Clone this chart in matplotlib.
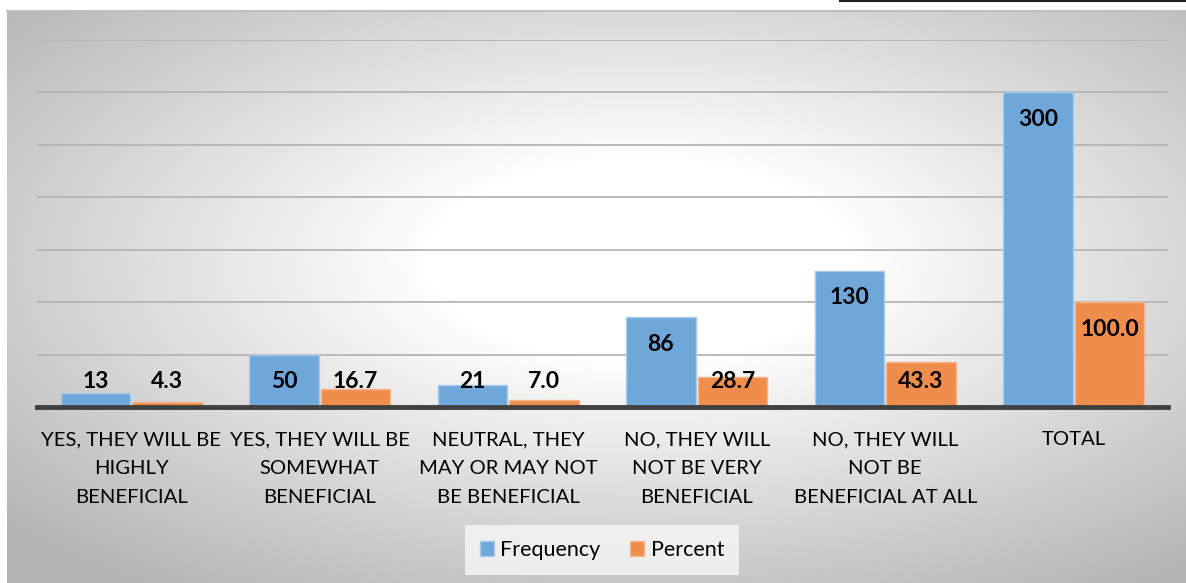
import numpy as np
import matplotlib.pyplot as plt
from matplotlib.lines import Line2D

# data
categories = ['YES, THEY WILL BE\nHIGHLY\nBENEFICIAL',
              'YES, THEY WILL BE\nSOMEWHAT\nBENEFICIAL',
              'NEUTRAL, THEY\nMAY OR MAY NOT\nBE BENEFICIAL',
              'NO, THEY WILL\nNOT BE VERY\nBENEFICIAL',
              'NO, THEY WILL\nNOT BE\nBENEFICIAL AT ALL',
              'TOTAL']
frequency = [13, 50, 21, 86, 130, 300]
percent = [4.3, 16.7, 7.0, 28.7, 43.3, 100.0]

plt.rcParams['font.family'] = ['Lato', 'DejaVu Sans']

W, H = 1186, 583
fig = plt.figure(figsize=(W / 100, H / 100), dpi=100)

# panel with radial gradient background
bg = fig.add_axes([7 / W, 0, 1 - 7 / W, (H - 11) / H])
xs = np.linspace(7, W, 400)
ys = np.linspace(11, H, 200)
X, Y = np.meshgrid(xs, ys)
r = np.sqrt(((X - 640) / 700) ** 2 + ((Y - 260) / 330) ** 2)
g = 255 - 57 * np.clip((r - 0.3) / 0.7, 0, 1.3)
img = np.dstack([g, g, g]) / 255
bg.imshow(img, aspect='auto', extent=[0, 1, 0, 1], interpolation='bilinear')
bg.set_xlim(0, 1)
bg.set_ylim(0, 1)
bg.axis('off')
bg.plot([0, 1], [1, 1], color='#c0c0c0', lw=1.5, transform=bg.transAxes, clip_on=False)
fig.add_artist(Line2D([840 / W, 1], [1 - 1 / H, 1 - 1 / H], color='#202020', lw=1.5))

ax = fig.add_axes([37 / W, (H - 407) / H, (1168 - 37) / W, (407 - 40) / H])
ax.set_facecolor('none')
x = np.arange(len(categories))
w = 0.37
off = 0.19
blue = '#6fa7da'
orange = '#ef8d4c'
ax.bar(x - off, frequency, w, color=blue, edgecolor='#a9cbea', lw=1, zorder=3, label='Frequency')
ax.bar(x + off, percent, w, color=orange, edgecolor='#f5b58a', lw=1, zorder=3, label='Percent')

for xi, v in zip(x, frequency):
    ax.text(xi - off, max(v - 26, 24), str(v), ha='center', va='center',
            fontsize=16.5, fontweight='bold', color='black', zorder=4)
for xi, v in zip(x, percent):
    ax.text(xi + off, max(v - 26, 24), f'{v:.1f}', ha='center', va='center',
            fontsize=16.5, fontweight='bold', color='black', zorder=4)

ax.set_xlim(-0.5, len(categories) - 0.5)
ax.set_ylim(0, 350)
ax.set_yticks(np.arange(50, 351, 50))
ax.yaxis.grid(True, color='#b5b5b5', lw=1.3, zorder=1)
ax.set_axisbelow(True)
ax.tick_params(axis='y', left=False, labelleft=False)
ax.set_xticks(x)
ax.set_xticklabels(categories, fontsize=14.6, linespacing=1.84)
ax.tick_params(axis='x', length=0, pad=17.5)
for s in ax.spines.values():
    s.set_visible(False)
ax.axhline(0, color='#404040', lw=3.5, zorder=5, clip_on=False)

leg = fig.legend(loc='center', bbox_to_anchor=(602 / W, 1 - 550 / H), ncol=2,
                 fontsize=15.5, frameon=True, handlelength=0.65, handleheight=0.65,
                 columnspacing=1.4, handletextpad=0.3, borderpad=0.4)
leg.get_frame().set_facecolor('#f7f7f7')
leg.get_frame().set_edgecolor('none')
leg.get_frame().set_alpha(0.8)
leg.get_frame().set_boxstyle('square')

fig.savefig('out.png', dpi=100)
